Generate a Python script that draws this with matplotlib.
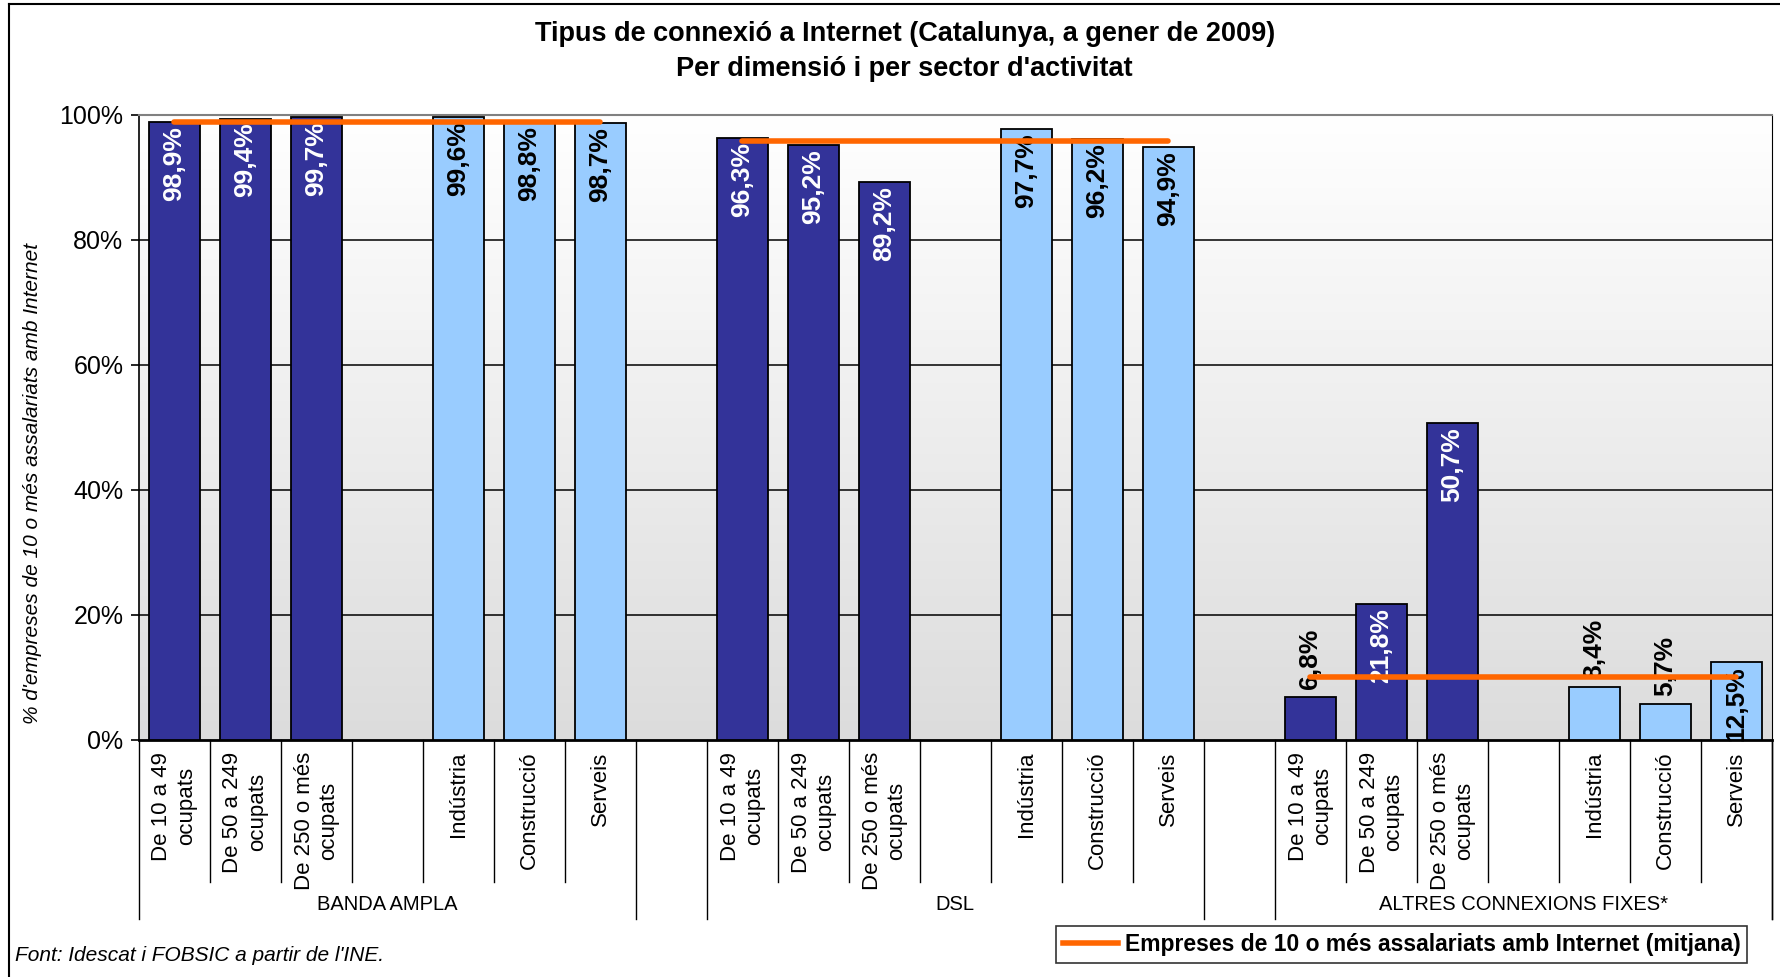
import numpy as np
import matplotlib
matplotlib.use('Agg')
import matplotlib.pyplot as plt
from matplotlib.lines import Line2D
import matplotlib.transforms as mtransforms

plt.rcParams['font.family'] = ['Liberation Sans', 'DejaVu Sans']

# data
groups = ['BANDA AMPLA', 'DSL', 'ALTRES CONNEXIONS FIXES*']
dims = ['De 10 a 49\nocupats', 'De 50 a 249\nocupats', 'De 250 o més\nocupats']
sectors = ['Indústria', 'Construcció', 'Serveis']
dim_vals = [[98.9, 99.4, 99.7], [96.3, 95.2, 89.2], [6.8, 21.8, 50.7]]
sec_vals = [[99.6, 98.8, 98.7], [97.7, 96.2, 94.9], [8.4, 5.7, 12.5]]
averages = [98.9, 95.9, 10.0]

title1 = "Tipus de connexió a Internet (Catalunya, a gener de 2009)"
title2 = "Per dimensió i per sector d'activitat"
ylabel = "% d'empreses de 10 o més assalariats amb Internet"
source = "Font: Idescat i FOBSIC a partir de l'INE."
legend_label = 'Empreses de 10 o més assalariats amb Internet (mitjana)'

dark = '#333399'
light = '#99CCFF'
orange = '#FF6600'

fig = plt.figure(figsize=(17.81, 9.77), dpi=100)
ax = fig.add_axes([0.0778, 0.2426, 0.9171, 0.6397])

# gradient background, white at top to light grey at bottom
grad = np.linspace(0, 1, 256).reshape(-1, 1)
cmap = matplotlib.colors.LinearSegmentedColormap.from_list('bg', ['#FFFFFF', '#DCDCDC'])
ax.imshow(grad, extent=[0, 1, 0, 1], transform=ax.transAxes, cmap=cmap,
          aspect='auto', origin='upper', zorder=0)

nslots = 23
for g in range(3):
    start = g * 8
    xs_dim = [start + i + 0.5 for i in range(3)]
    xs_sec = [start + 4 + i + 0.5 for i in range(3)]
    for xs, vals, col in ((xs_dim, dim_vals[g], dark), (xs_sec, sec_vals[g], light)):
        ax.bar(xs, vals, width=0.72, color=col, edgecolor='black', linewidth=1.3, zorder=3)
        for x, v in zip(xs, vals):
            txt = ('%.1f%%' % v).replace('.', ',')
            if v >= 12:
                c = 'white' if col == dark else 'black'
                ax.annotate(txt, (x, v), xytext=(0, -4), textcoords='offset pixels',
                            rotation=90, ha='center', va='top', color=c,
                            fontsize=19, fontweight='bold', zorder=5)
            else:
                ax.annotate(txt, (x, v), xytext=(0, 8), textcoords='offset pixels',
                            rotation=90, ha='center', va='bottom', color='black',
                            fontsize=19, fontweight='bold', zorder=5)
    ax.plot([start + 0.5, start + 6.5], [averages[g]] * 2, color=orange, lw=4,
            solid_capstyle='round', zorder=6)

ax.set_xlim(0, nslots)
ax.set_ylim(0, 100)
ax.set_yticks([0, 20, 40, 60, 80, 100])
ax.set_yticklabels(['%d%%' % t for t in [0, 20, 40, 60, 80, 100]])
ax.tick_params(axis='y', labelsize=18, direction='out', length=6, width=1.2, pad=5)
ax.set_xticks([])
for t in [20, 40, 60, 80]:
    ax.axhline(t, color='black', lw=1.1, zorder=1)
ax.spines['top'].set_color('#808080')
ax.spines['top'].set_linewidth(1.5)
ax.spines['right'].set_color('black')
ax.spines['left'].set_linewidth(1.2)
ax.spines['bottom'].set_linewidth(2)

# category labels and separators below axis
trans = mtransforms.blended_transform_factory(ax.transData, ax.transAxes)
for g in range(3):
    start = g * 8
    labels = dims + [''] + sectors
    for i, lab in enumerate(labels):
        if lab:
            ax.text(start + i + 0.5, -0.019, lab, transform=trans, rotation=90,
                    ha='center', va='top', multialignment='center', fontsize=16)
    for b in range(1, 7):
        ax.plot([start + b] * 2, [0, -0.227], transform=trans, color='black',
                lw=1, clip_on=False)
    for b in (start, start + 7):
        ax.plot([b] * 2, [0, -0.286], transform=trans, color='black', lw=1, clip_on=False)
    ax.text(start + 3.5, -0.264, groups[g], transform=trans, ha='center', va='center',
            fontsize=14.5)
ax.plot([nslots] * 2, [0, -0.286], transform=trans, color='black', lw=1, clip_on=False)

fig.text(0.508, 0.965, title1, ha='center', va='center', fontsize=19.5, fontweight='bold')
fig.text(0.508, 0.9294, title2, ha='center', va='center', fontsize=19.5, fontweight='bold')
fig.text(0.018, 0.5056, ylabel, rotation=90, ha='center', va='center',
         fontsize=15, style='italic')
fig.text(0.0084, 0.0215, source, ha='left', va='center', fontsize=15, style='italic')

handle = Line2D([], [], color=orange, lw=4)
leg = fig.legend([handle], [legend_label], loc='center', bbox_to_anchor=(0.787, 0.0333),
                 fancybox=False, edgecolor='black', handlelength=2.4,
                 prop={'size': 16.5, 'weight': 'bold'}, borderpad=0.3, handletextpad=0.3)
leg.get_frame().set_linewidth(1.2)

# outer chart border
fig.add_artist(Line2D([0.005, 0.005], [0, 0.996], color='black', lw=1.5,
                      transform=fig.transFigure))
fig.add_artist(Line2D([0.005, 1], [0.996, 0.996], color='black', lw=1.5,
                      transform=fig.transFigure))

fig.savefig('out.png', dpi=100)
